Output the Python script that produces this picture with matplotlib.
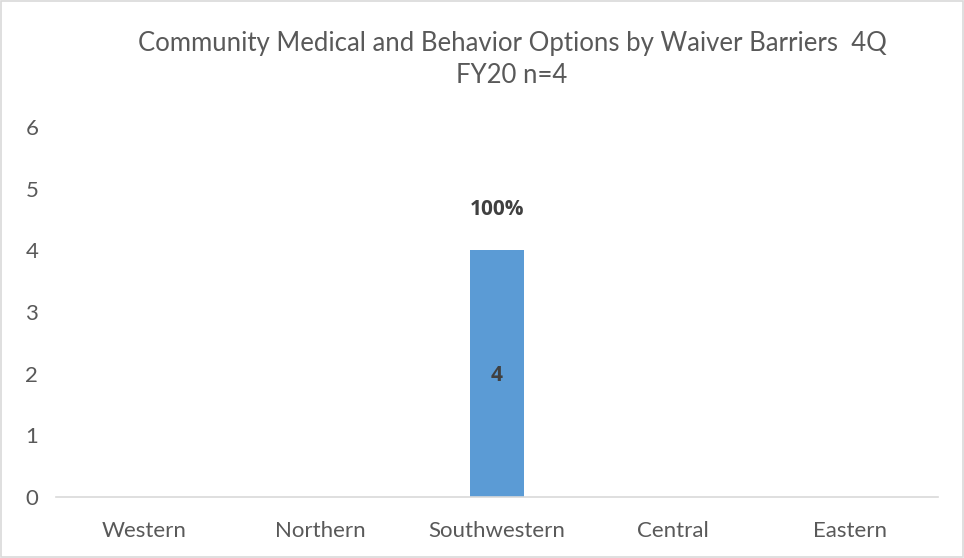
import numpy as np
import matplotlib
matplotlib.use('Agg')
from matplotlib import pyplot as plt
from matplotlib.patches import Rectangle

# データ
regions = ['Western', 'Northern', 'Southwestern', 'Central', 'Eastern']
counts = [0, 0, 4, 0, 0]
percents = ['', '', '100%', '', '']

plt.rcParams['font.family'] = ['Lato', 'DejaVu Sans']

fig = plt.figure(figsize=(9.64, 5.58), dpi=100)
ax = fig.add_axes([0.058, 0.1093, 0.915, 0.6631])

x = np.arange(len(regions))
bars = ax.bar(x, counts, width=0.31, color='#5b9bd5', zorder=2)

# バーの中の数値と上のパーセント
for xi, c, p in zip(x, counts, percents):
    if c > 0:
        ax.text(xi, c / 2 - 0.03, str(c), ha='center', va='center', family='Open Sans',
                fontsize=15, fontweight='bold', color='#404040')
        ax.text(xi, c + 0.66, p, ha='center', va='center', family='Open Sans',
                fontsize=15, fontweight='bold', color='#404040')

ax.set_xlim(-0.5, len(regions) - 0.5)
ax.set_ylim(0, 6)
ax.set_xticks(x)
ax.set_xticklabels(regions)
ax.set_yticks(range(0, 7))

for s in ['top', 'right', 'left']:
    ax.spines[s].set_visible(False)
ax.spines['bottom'].set_color('#d9d9d9')
ax.spines['bottom'].set_linewidth(1.2)
ax.tick_params(axis='both', length=0, labelsize=16, colors='#595959')
ax.tick_params(axis='x', pad=17)
ax.tick_params(axis='y', pad=22)
for lab in ax.get_yticklabels():
    lab.set_horizontalalignment('left')

fig.text(0.532, 0.922, 'Community Medical and Behavior Options by Waiver Barriers  4Q',
         ha='center', va='center', fontsize=18.5, color='#595959')
fig.text(0.531, 0.864, 'FY20 n=4', ha='center', va='center',
         fontsize=18.5, color='#595959')

# 外枠
fig.patches.append(Rectangle((0.001, 0.002), 0.998, 0.996, transform=fig.transFigure,
                             fill=False, edgecolor='#d9d9d9', linewidth=1.2))

fig.savefig('out.png', dpi=100)
